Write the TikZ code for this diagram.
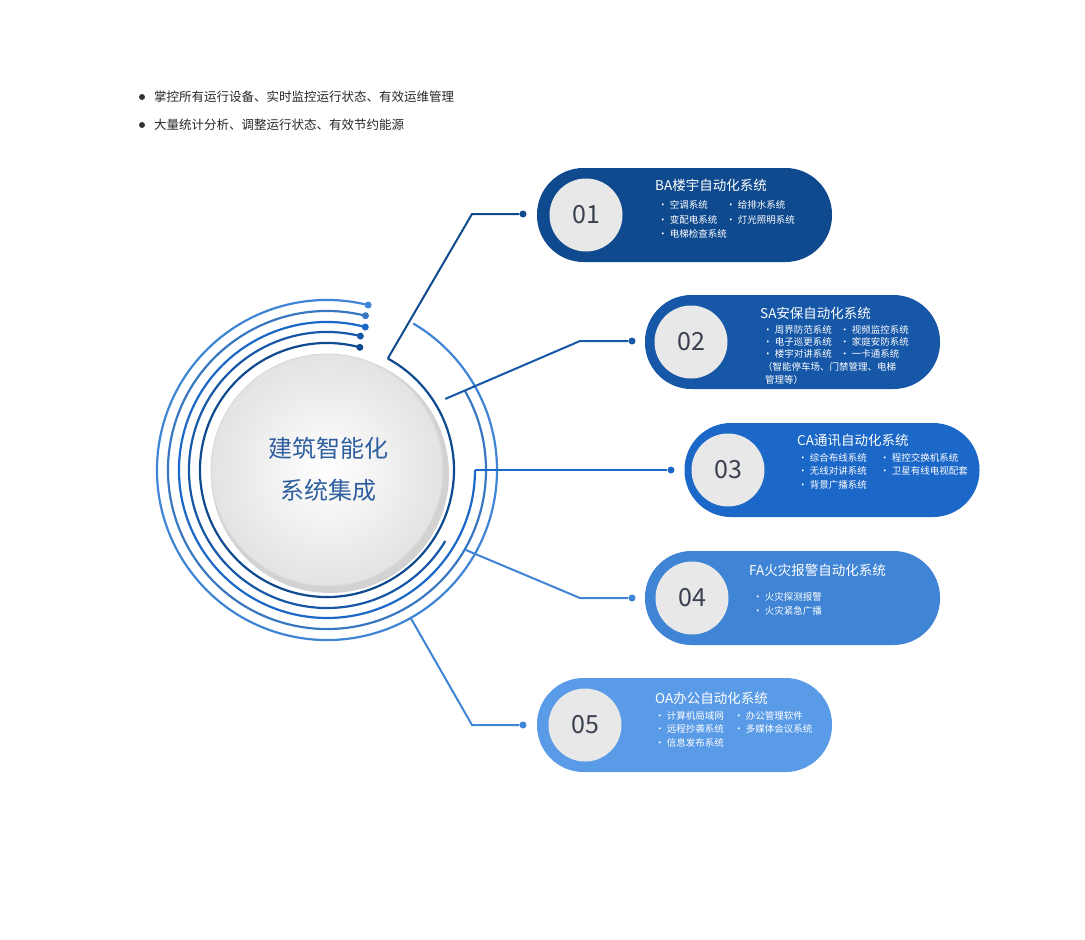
\documentclass[tikz,border=0pt]{standalone}
\usepackage{fontspec}
\setmainfont{Noto Sans CJK SC}
\usetikzlibrary{calc}
\definecolor{cA}{HTML}{0F4A8F}
\definecolor{cB}{HTML}{1657A8}
\definecolor{cC}{HTML}{1C68C8}
\definecolor{cD}{HTML}{3F84D5}
\definecolor{cE}{HTML}{5A9BE8}
\definecolor{numc}{HTML}{3A4050}
\definecolor{ctxt}{HTML}{2F5F9F}
\tikzset{
  pill/.style={draw=none,fill=#1,rounded corners=46.5pt,minimum width=295pt,minimum height=94pt,inner sep=0pt},
  numdisk/.style={circle,fill=gray!18,minimum size=73pt,inner sep=0pt,text=numc,font=\fontsize{25}{25}\selectfont},
  ttl/.style={anchor=west,text=white,inner sep=0pt,font=\fontsize{13.5}{14}\selectfont},
  itm/.style={anchor=west,text=white,inner sep=0pt,font=\fontsize{9.5}{10}\selectfont},
  ring/.style={line width=2.2pt,draw=#1},
  conn/.style={line width=2pt,draw=#1},
  enddot/.style={circle,fill=#1,minimum size=7pt,inner sep=0pt},
  bul/.style={anchor=west,inner sep=0pt,text=black!85,font=\fontsize{12.5}{13}\selectfont}
}
\begin{document}
\begin{tikzpicture}[x=1pt,y=-1pt]
\useasboundingbox (0,0) rectangle (1085,940);
% top bullets
\fill[black!80] (142,97) circle (3);
\fill[black!80] (142,125) circle (3);
\node[bul] (b1) at (154,97) {掌控所有运行设备、实时监控运行状态、有效运维管理};
\node[bul] (b2) at (154,125) {大量统计分析、调整运行状态、有效节约能源};
% center
\coordinate (C) at (327,470);
\fill[gray!35] ($(C)+(3,4)$) circle (119);
\shade[inner color=white,outer color=gray!22] (C) circle (116);
\draw[gray!30,line width=1pt] (C) circle (116);
\node[text=ctxt,font=\fontsize{24}{24}\selectfont] (t1) at (328,448) {建筑智能化};
\node[text=ctxt,font=\fontsize{24}{24}\selectfont] (t2) at (328,490) {系统集成};
% rings (y axis flipped: angle a maps to -a)
\draw[ring=cA] ($(C)+(-75:127)$) arc[start angle=-75,end angle=-421.4,radius=127];
\draw[ring=cB] ($(C)+(-76:138)$) arc[start angle=-76,end angle=-329,radius=138];
\draw[ring=cC] ($(C)+(-75:148)$) arc[start angle=-75,end angle=-360,radius=148];
\draw[ring=cD!90!black] ($(C)+(-76:159)$) arc[start angle=-76,end angle=-390,radius=159];
\draw[ring=cD] ($(C)+(-76:170)$) arc[start angle=-76,end angle=-419.5,radius=170];
\node[enddot=cA] (d1) at ($(C)+(-75:127)$) {};
\node[enddot=cB] (d2) at ($(C)+(-76:138)$) {};
\node[enddot=cC] (d3) at ($(C)+(-75:148)$) {};
\node[enddot=cD!90!black] (d4) at ($(C)+(-76:159)$) {};
\node[enddot=cD] (d5) at ($(C)+(-76:170)$) {};
% ring exits
\coordinate (e1) at ($(C)+(-61.4:127)$);
\coordinate (e2) at ($(C)+(-31:138)$);
\coordinate (e3) at ($(C)+(0:148)$);
\coordinate (e4) at ($(C)+(30:159)$);
\coordinate (e5) at ($(C)+(60.5:170)$);
% pills
\node[pill=cA] (p1) at (684.5,215) {};
\node[pill=cB] (p2) at (792.5,342) {};
\node[pill=cC] (p3) at (832,470) {};
\node[pill=cD] (p4) at (792.5,598) {};
\node[pill=cE] (p5) at (684.5,725) {};
\node[numdisk] (n1) at (586,215) {01};
\node[numdisk] (n2) at (691,342) {02};
\node[numdisk] (n3) at (728,470) {03};
\node[numdisk] (n4) at (692,598) {04};
\node[numdisk] (n5) at (585,725) {05};
% connectors
\node[enddot=cA] (k1) at (523,214) {};
\node[enddot=cB] (k2) at (632,341) {};
\node[enddot=cC] (k3) at (671,470) {};
\node[enddot=cD] (k4) at (632,598) {};
\node[enddot=cD] (k5) at (523,725) {};
\draw[conn=cA] (e1) -- (472,214) -- (k1);
\draw[conn=cB] (e2) -- (580,341) -- (k2);
\draw[conn=cC] (e3) -- (k3);
\draw[conn=cD] (e4) -- (580,598) -- (k4);
\draw[conn=cD] (e5) -- (472,725) -- (k5);
% texts pill1
\node[ttl] (h1) at (655,185) {BA楼宇自动化系统};
\node[itm] at (658,205) {\makebox[68pt][l]{• 空调系统}• 给排水系统};
\node[itm] at (658,220) {\makebox[68pt][l]{• 变配电系统}• 灯光照明系统};
\node[itm] at (658,234) {• 电梯检查系统};
% pill2
\node[ttl] (h2) at (760,313) {SA安保自动化系统};
\node[itm] at (763,330) {\makebox[77pt][l]{• 周界防范系统}• 视频监控系统};
\node[itm] at (763,342) {\makebox[77pt][l]{• 电子巡更系统}• 家庭安防系统};
\node[itm] at (763,354) {\makebox[77pt][l]{• 楼宇对讲系统}• 一卡通系统};
\node[itm] at (763,367) {（智能停车场、门禁管理、电梯};
\node[itm] at (765,380) {管理等）};
% pill3
\node[ttl] (h3) at (797,440) {CA通讯自动化系统};
\node[itm] at (798,458) {\makebox[82pt][l]{• 综合布线系统}• 程控交换机系统};
\node[itm] at (798,471) {\makebox[82pt][l]{• 无线对讲系统}• 卫星有线电视配套};
\node[itm] at (798,485) {• 背景广播系统};
% pill4
\node[ttl] (h4) at (749,570) {FA火灾报警自动化系统};
\node[itm] at (753,597) {• 火灾探测报警};
\node[itm] at (753,611) {• 火灾紧急广播};
% pill5
\node[ttl] (h5) at (655,698) {OA办公自动化系统};
\node[itm] at (655,716) {\makebox[79pt][l]{• 计算机局域网}• 办公管理软件};
\node[itm] at (655,729) {\makebox[79pt][l]{• 远程抄袭系统}• 多媒体会议系统};
\node[itm] at (655,743) {• 信息发布系统};
\end{tikzpicture}
\end{document}
